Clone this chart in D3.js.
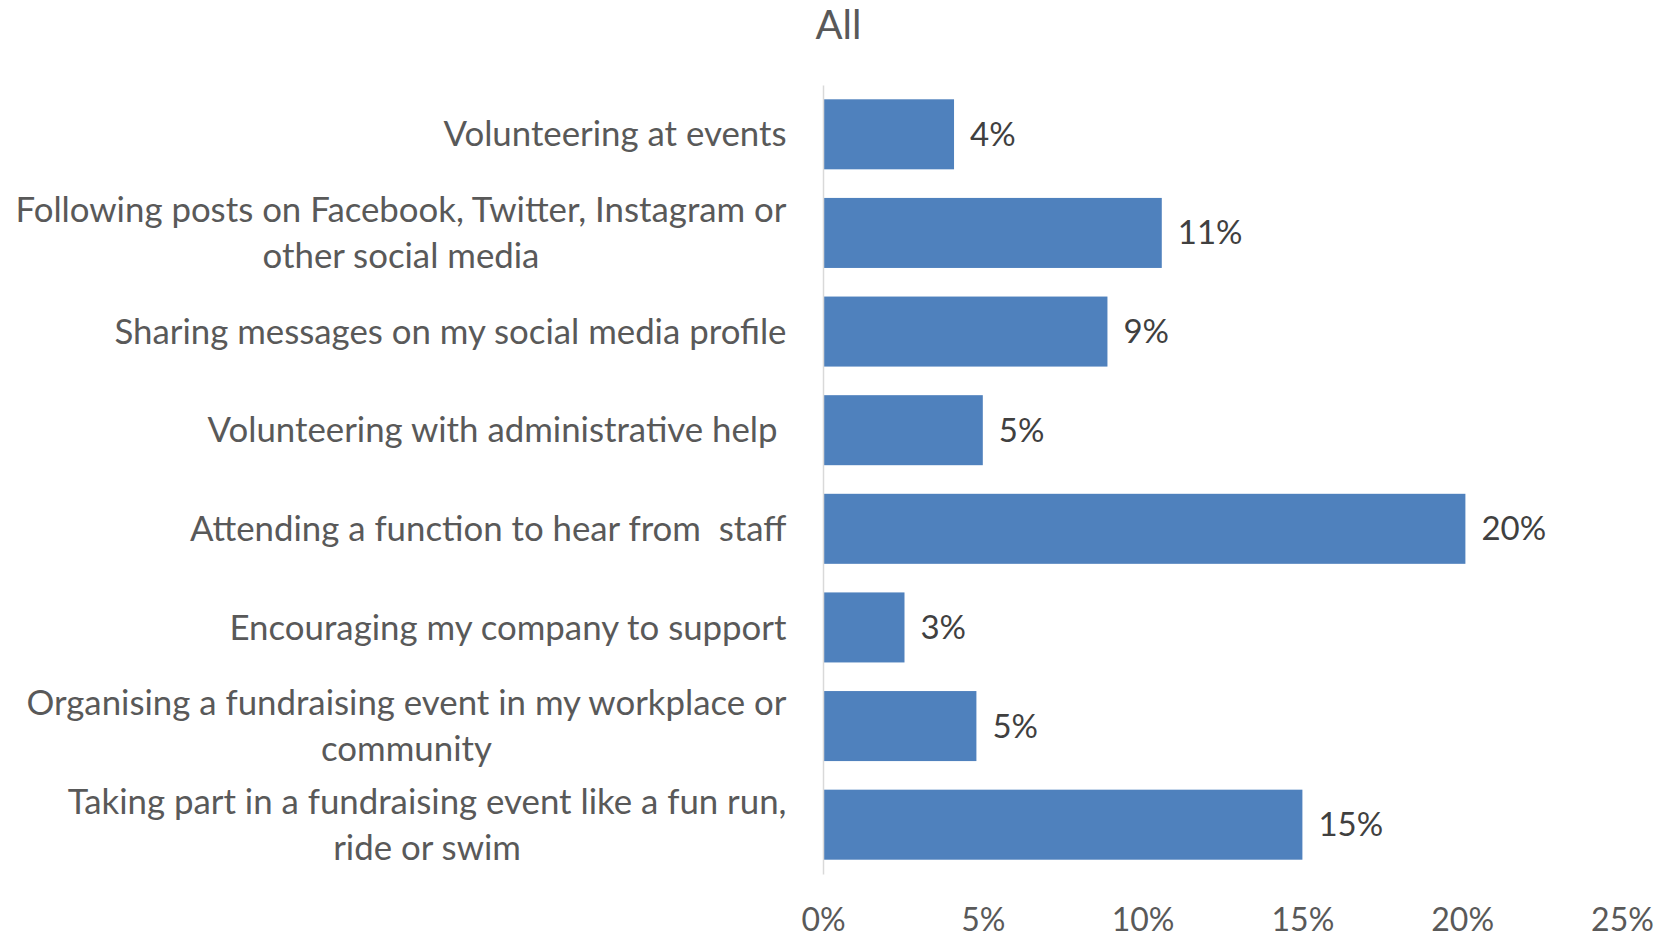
<!DOCTYPE html>
<html>
<head>
<meta charset="utf-8">
<script src="https://cdn.jsdelivr.net/npm/d3@7/dist/d3.min.js"></script>
<style>
  html, body { margin: 0; padding: 0; background: #ffffff; }
  svg { display: block; }
  text { font-family: Lato, "Open Sans", sans-serif; }
</style>
</head>
<body>
<svg id="chart" width="1671" height="940"></svg>
<script>
// Share of respondents interested in each way of getting involved
const chartTitle = "All";
const categories = [
  ["Volunteering at events"],
  ["Following posts on Facebook, Twitter, Instagram or", "other social media"],
  ["Sharing messages on my social media profile"],
  ["Volunteering with administrative help "],
  ["Attending a function to hear from  staff"],
  ["Encouraging my company to support"],
  ["Organising a fundraising event in my workplace or", "community"],
  ["Taking part in a fundraising event like a fun run,", "ride or swim"]
];
const values = [0.041, 0.106, 0.089, 0.050, 0.201, 0.0255, 0.048, 0.150];
const tickValues = [0, 0.05, 0.10, 0.15, 0.20, 0.25];

const W = 1671, H = 940;
const plot = { left: 823, right: 1622, top: 85, bottom: 874 };
const labelRight = 786.5;
const catFont = 34.8;
const valueFont = 33;
const tickFont = 32;
const lineGap = 45.5;

const svg = d3.select("#chart");

const keys = categories.map((c, i) => i);
const x = d3.scaleLinear().domain([0, 0.25]).range([plot.left, plot.right]);
const y = d3.scaleBand().domain(keys).range([plot.top, plot.bottom])
  .paddingInner(0.29).paddingOuter(0.145);

const pct = d3.format(".0%");

// title
svg.append("text")
  .attr("x", W / 2 + 3)
  .attr("y", 39)
  .attr("text-anchor", "middle")
  .attr("fill", "#595959")
  .style("font-size", "40px")
  .text(chartTitle);

// bars
svg.append("g").selectAll("rect")
  .data(values)
  .join("rect")
  .attr("x", x(0))
  .attr("y", (d, i) => y(i))
  .attr("width", d => x(d) - x(0))
  .attr("height", y.bandwidth())
  .attr("fill", "#4F81BD");

// value labels
svg.append("g").selectAll("text")
  .data(values)
  .join("text")
  .attr("x", d => x(d) + 16)
  .attr("y", (d, i) => y(i) + y.bandwidth() / 2)
  .attr("dy", "0.35em")
  .attr("fill", "#404040")
  .style("font-size", valueFont + "px")
  .text(d => pct(d));

// vertical category axis line
const yAxis = d3.axisLeft(y).tickSize(0).tickFormat(() => "");
const yg = svg.append("g").attr("transform", `translate(${plot.left},0)`).call(yAxis);
yg.select(".domain").attr("stroke", "#d9d9d9").attr("stroke-width", 1.5);

// category labels: each block right-aligned, lines centred within the block
const catG = svg.append("g");
categories.forEach((lines, i) => {
  const g = catG.append("g");
  const cy = y(i) + y.bandwidth() / 2;
  const n = lines.length;
  const texts = lines.map((line, j) => g.append("text")
    .attr("y", cy + (j - (n - 1) / 2) * lineGap)
    .attr("dy", "0.35em")
    .attr("fill", "#595959")
    .style("font-size", catFont + "px")
    .style("white-space", "pre")
    .attr("text-anchor", "middle")
    .text(line));
  const maxW = d3.max(texts, t => t.node().getComputedTextLength());
  texts.forEach(t => t.attr("x", labelRight - maxW / 2));
});

// value axis tick labels (no line, no ticks)
const xAxis = d3.axisBottom(x).tickValues(tickValues).tickFormat(pct).tickSize(0);
const xg = svg.append("g").attr("transform", `translate(0,${plot.bottom})`).call(xAxis);
xg.select(".domain").remove();
xg.selectAll("text")
  .attr("y", 46)
  .attr("dy", "0.35em")
  .attr("fill", "#595959")
  .style("font-family", "Lato, 'Open Sans', sans-serif")
  .style("font-size", tickFont + "px");
</script>
</body>
</html>
